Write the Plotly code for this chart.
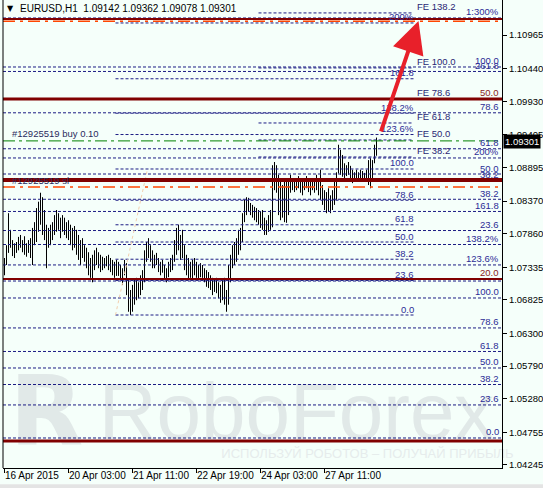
import plotly.graph_objects as go

# ---------------- data ----------------
chart_title = "EURUSD,H1  1.09142 1.09362 1.09078 1.09301"

first_open = 1.0745
bar_high = [
    1.0748, 1.0768, 1.0818, 1.0792, 1.0776, 1.0771, 1.0773, 1.0781, 1.0784, 1.0776,
    1.0782, 1.0771, 1.0776, 1.0779, 1.0795, 1.0804, 1.0826, 1.0836, 1.0850, 1.0843,
    1.0823, 1.0800, 1.0795, 1.0800, 1.0804, 1.0815, 1.0823, 1.0818, 1.0811, 1.0815,
    1.0811, 1.0804, 1.0807, 1.0800, 1.0795, 1.0798, 1.0792, 1.0784, 1.0776, 1.0779,
    1.0768, 1.0764, 1.0757, 1.0748, 1.0753, 1.0760, 1.0764, 1.0757, 1.0753, 1.0750,
    1.0748, 1.0751, 1.0753, 1.0748, 1.0745, 1.0742, 1.0745, 1.0742, 1.0737, 1.0732,
    1.0745, 1.0740, 1.0714, 1.0698, 1.0706, 1.0714, 1.0717, 1.0710, 1.0721, 1.0729,
    1.0760, 1.0773, 1.0779, 1.0768, 1.0760, 1.0753, 1.0756, 1.0748, 1.0742, 1.0745,
    1.0737, 1.0732, 1.0742, 1.0748, 1.0753, 1.0776, 1.0795, 1.0800, 1.0784, 1.0792,
    1.0768, 1.0753, 1.0748, 1.0742, 1.0745, 1.0748, 1.0742, 1.0737, 1.0740, 1.0737,
    1.0732, 1.0729, 1.0726, 1.0721, 1.0717, 1.0714, 1.0717, 1.0710, 1.0706, 1.0714,
    1.0717, 1.0698, 1.0737, 1.0753, 1.0768, 1.0773, 1.0779, 1.0792, 1.0795, 1.0818,
    1.0839, 1.0843, 1.0842, 1.0834, 1.0831, 1.0828, 1.0826, 1.0823, 1.0820, 1.0823,
    1.0811, 1.0807, 1.0815, 1.0823, 1.0893, 1.0898, 1.0893, 1.0878, 1.0870, 1.0862,
    1.0873, 1.0867, 1.0870, 1.0878, 1.0873, 1.0873, 1.0870, 1.0876, 1.0873, 1.0870,
    1.0873, 1.0876, 1.0870, 1.0867, 1.0873, 1.0870, 1.0878, 1.0873, 1.0886, 1.0862,
    1.0854, 1.0851, 1.0857, 1.0846, 1.0854, 1.0870, 1.0882, 1.0925, 1.0917, 1.0909,
    1.0896, 1.0893, 1.0898, 1.0892, 1.0886, 1.0882, 1.0886, 1.0882, 1.0886, 1.0884,
    1.0881, 1.0886, 1.0901, 1.0904, 1.0901, 1.0925, 1.09362,
]
bar_low = [
    1.0721, 1.0737, 1.0756, 1.0764, 1.0751, 1.0748, 1.0756, 1.0760, 1.0764, 1.0757,
    1.0753, 1.0750, 1.0756, 1.0748, 1.0737, 1.0768, 1.0773, 1.0789, 1.0800, 1.0784,
    1.0776, 1.0732, 1.0764, 1.0768, 1.0776, 1.0784, 1.0789, 1.0792, 1.0779, 1.0789,
    1.0784, 1.0779, 1.0776, 1.0768, 1.0760, 1.0764, 1.0753, 1.0745, 1.0737, 1.0748,
    1.0742, 1.0732, 1.0721, 1.0717, 1.0710, 1.0729, 1.0737, 1.0732, 1.0726, 1.0729,
    1.0732, 1.0735, 1.0729, 1.0726, 1.0721, 1.0717, 1.0720, 1.0720, 1.0714, 1.0706,
    1.0721, 1.0690, 1.0664, 1.0659, 1.0664, 1.0675, 1.0682, 1.0685, 1.0690, 1.0698,
    1.0710, 1.0742, 1.0748, 1.0742, 1.0732, 1.0732, 1.0737, 1.0726, 1.0721, 1.0725,
    1.0714, 1.0710, 1.0718, 1.0726, 1.0729, 1.0742, 1.0753, 1.0760, 1.0745, 1.0748,
    1.0729, 1.0721, 1.0714, 1.0717, 1.0714, 1.0721, 1.0717, 1.0714, 1.0718, 1.0717,
    1.0710, 1.0703, 1.0701, 1.0698, 1.0690, 1.0695, 1.0693, 1.0685, 1.0678, 1.0682,
    1.0675, 1.0664, 1.0675, 1.0710, 1.0732, 1.0737, 1.0742, 1.0753, 1.0760, 1.0773,
    1.0804, 1.0815, 1.0820, 1.0815, 1.0811, 1.0807, 1.0804, 1.0800, 1.0795, 1.0792,
    1.0784, 1.0784, 1.0789, 1.0792, 1.0796, 1.0854, 1.0850, 1.0815, 1.0807, 1.0811,
    1.0804, 1.0803, 1.0815, 1.0850, 1.0854, 1.0851, 1.0854, 1.0857, 1.0850, 1.0846,
    1.0854, 1.0857, 1.0851, 1.0846, 1.0854, 1.0850, 1.0854, 1.0846, 1.0839, 1.0831,
    1.0823, 1.0818, 1.0820, 1.0818, 1.0823, 1.0831, 1.0839, 1.0880, 1.0878, 1.0875,
    1.0873, 1.0876, 1.0878, 1.0873, 1.0865, 1.0867, 1.0870, 1.0867, 1.0870, 1.0867,
    1.0868, 1.0867, 1.0862, 1.0857, 1.0870, 1.0896, 1.09078,
]
bar_close = [
    1.0742, 1.0760, 1.0768, 1.0771, 1.0760, 1.0765, 1.0768, 1.0776, 1.0768, 1.0770,
    1.0760, 1.0764, 1.0770, 1.0760, 1.0789, 1.0792, 1.0815, 1.0823, 1.0839, 1.0795,
    1.0792, 1.0776, 1.0782, 1.0789, 1.0792, 1.0804, 1.0811, 1.0800, 1.0795, 1.0807,
    1.0795, 1.0792, 1.0787, 1.0779, 1.0776, 1.0784, 1.0764, 1.0760, 1.0753, 1.0760,
    1.0753, 1.0742, 1.0729, 1.0737, 1.0721, 1.0748, 1.0753, 1.0742, 1.0737, 1.0742,
    1.0740, 1.0745, 1.0737, 1.0732, 1.0729, 1.0726, 1.0729, 1.0726, 1.0721, 1.0714,
    1.0732, 1.0698, 1.0675, 1.0682, 1.0690, 1.0698, 1.0706, 1.0701, 1.0714, 1.0721,
    1.0753, 1.0760, 1.0757, 1.0753, 1.0742, 1.0745, 1.0748, 1.0732, 1.0729, 1.0737,
    1.0721, 1.0726, 1.0732, 1.0742, 1.0748, 1.0768, 1.0784, 1.0776, 1.0753, 1.0760,
    1.0742, 1.0737, 1.0729, 1.0732, 1.0726, 1.0732, 1.0729, 1.0721, 1.0729, 1.0726,
    1.0720, 1.0714, 1.0710, 1.0706, 1.0701, 1.0706, 1.0698, 1.0695, 1.0690, 1.0698,
    1.0682, 1.0682, 1.0721, 1.0742, 1.0753, 1.0760, 1.0768, 1.0784, 1.0779, 1.0811,
    1.0831, 1.0831, 1.0826, 1.0823, 1.0820, 1.0815, 1.0817, 1.0811, 1.0804, 1.0800,
    1.0795, 1.0792, 1.0800, 1.0815, 1.0878, 1.0886, 1.0862, 1.0831, 1.0854, 1.0846,
    1.0862, 1.0823, 1.0854, 1.0870, 1.0862, 1.0862, 1.0864, 1.0867, 1.0861, 1.0857,
    1.0865, 1.0870, 1.0861, 1.0854, 1.0864, 1.0857, 1.0867, 1.0854, 1.0846, 1.0839,
    1.0839, 1.0831, 1.0839, 1.0826, 1.0846, 1.0854, 1.0881, 1.0909, 1.0889, 1.0886,
    1.0882, 1.0886, 1.0889, 1.0879, 1.0873, 1.0876, 1.0878, 1.0873, 1.0879, 1.0876,
    1.0875, 1.0873, 1.0889, 1.0893, 1.0898, 1.09142, 1.09301,
]

time_tick_index = [0, 32, 64, 96, 128, 160]
time_tick_text = ["16 Apr 2015", "20 Apr 03:00", "21 Apr 11:00",
                  "22 Apr 19:00", "24 Apr 03:00", "27 Apr 11:00"]

price_tick_vals = [1.10965, 1.10440, 1.09930, 1.09405, 1.08895, 1.08370, 1.07860,
                   1.07335, 1.06825, 1.06300, 1.05790, 1.05280, 1.04755, 1.04245]
last_price = 1.09301

# Fibonacci tool A (labels at right edge, full width)
fibA_zero, fibA_full = 1.04667, 1.06855
fibA_levels = [0, 23.6, 38.2, 50, 61.8, 78.6, 100, 123.6, 138.2, 161.8, 200, 261.8, 300]
fibA_labels = ["0.0", "23.6", "38.2", "50.0", "61.8", "78.6", "100.0", "123.6%",
               "138.2%", "161.8", "200%", "261.8", "1:300%"]
# Fibonacci tool B (labels at right edge, full width)
fibB_zero, fibB_full = 1.07120, 1.10465
fibB_levels = [0, 23.6, 38.2, 50, 61.8, 78.6, 100]
fibB_labels = ["", "23.6", "38.2", "50.0", "61.8", "78.6", "100.0"]
# Fibonacci tool C (lines between two bars, labels right-aligned)
fibC_zero, fibC_full = 1.06589, 1.08871
fibC_levels = [0, 23.6, 38.2, 50, 61.8, 78.6, 100, 123.6, 138.2, 161.8, 200]
fibC_labels = ["0.0", "23.6", "38.2", "50.0", "61.8", "78.6", "100.0", "123.6%",
               "138.2%", "161.8", "200%"]
fibC_span = [55.5, 204.5]
fibC_anchor_bars = [55.5, 71.5]
# Fibonacci expansion (FE)
fe_zero, fe_full = 1.08199, 1.10450
fe_levels = [38.2, 50, 61.8, 78.6, 100, 138.2]
fe_span = [127, 204.5]

# manual horizontal lines (dark red) and order lines
sr_levels = [1.11215, 1.09965, 1.08699, 1.07152, 1.04620]
sr_widths = [2, 3, 4, 2, 3]
sr_labels = ["", "50.0", "38.2", "20.0", ""]
order_price = 1.09310
stop_price = 1.08590
target_price = 1.11180

arrow_from = (188, 1.09434)
arrow_to = (207, 1.11184)

watermark = "RoboForex"
watermark_tag = "ИСПОЛЬЗУЙ РОБОТОВ – ПОЛУЧАЙ ПРИБЫЛЬ"

# ---------------- styling ----------------
BG = "#f5fffa"
NAVY = "#1c1c84"
LBL = "#2c2c96"
FE_LBL = "#2a1f74"
DRED = "#800000"
FONT = "Liberation Sans, Arial, sans-serif"
Y_RANGE = [1.04198, 1.11512]
X_RANGE = [-0.75, 248.75]

idx = list(range(len(bar_high)))
opens = [first_open] + bar_close[:-1]

fig = go.Figure()

# watermark under everything
fig.add_trace(go.Scatter(
    x=[146], y=[1.04960], mode="text", text=[watermark],
    textfont=dict(family="Liberation Sans Narrow, Liberation Sans, Arial", size=80, color="#e1e9e8"),
    hoverinfo="skip", showlegend=False, cliponaxis=False))
fig.add_trace(go.Scatter(
    x=[21], y=[1.04940], mode="text", text=["R"],
    textfont=dict(family="DejaVu Sans", size=96, color="#e1e9e8", weight="bold"),
    hoverinfo="skip", showlegend=False, cliponaxis=False))
fig.add_trace(go.Scatter(
    x=[181.5], y=[1.04401], mode="text", text=[watermark_tag],
    textfont=dict(family=FONT, size=13, color="#e6ecec"),
    hoverinfo="skip", showlegend=False, cliponaxis=False))

fig.add_trace(go.Ohlc(
    x=idx, open=opens, high=bar_high, low=bar_low, close=bar_close,
    increasing=dict(line=dict(color="black", width=1)),
    decreasing=dict(line=dict(color="black", width=1)),
    tickwidth=0, hoverinfo="skip", showlegend=False))

shapes = []
annotations = []


def hline(y, x0=0, x1=1, xref="paper", color=NAVY, width=1, dash="3px,2px"):
    shapes.append(dict(type="line", xref=xref, yref="y", x0=x0, x1=x1, y0=y, y1=y,
                       line=dict(color=color, width=width, dash=dash)))


def label(text, x, y, xref="paper", anchor="right", color=LBL, shift=6, xshift=0, size=9.5):
    if not text:
        return
    annotations.append(dict(text=text, x=x, y=y, xref=xref, yref="y", xanchor=anchor,
                            yanchor="middle", yshift=shift, xshift=xshift, showarrow=False,
                            font=dict(family=FONT, size=size, color=color)))


# Fib A
for lv, tx in zip(fibA_levels, fibA_labels):
    p = fibA_zero + (fibA_full - fibA_zero) * lv / 100
    hline(p)
    label(tx, 1, p, xshift=-1)
# Fib B
for lv, tx in zip(fibB_levels, fibB_labels):
    p = fibB_zero + (fibB_full - fibB_zero) * lv / 100
    hline(p)
    label(tx, 1, p, xshift=-1)
# Fib C
for lv, tx in zip(fibC_levels, fibC_labels):
    p = fibC_zero + (fibC_full - fibC_zero) * lv / 100
    hline(p, fibC_span[0], fibC_span[1], xref="x")
    label(tx, fibC_span[1], p, xref="x", xshift=2)
shapes.append(dict(type="line", xref="x", yref="y", x0=fibC_anchor_bars[0], x1=fibC_anchor_bars[1],
                   y0=fibC_zero, y1=fibC_full, line=dict(color="#f3cfae", width=1, dash="dot")))
# FE
for lv in fe_levels:
    p = fe_zero + (fe_full - fe_zero) * lv / 100
    hline(p, fe_span[0], fe_span[1], xref="x")
    label("FE %.1f" % lv, fe_span[1] + 1.5, p, xref="x", anchor="left", color=FE_LBL, xshift=-2)

# order lines
hline(order_price, color="#008000", width=1, dash="12px,4px,3px,4px")
hline(stop_price, color="#ff4500", width=1.5, dash="12px,5px,3px,5px")
hline(target_price, color="#ff4500", width=1.5, dash="12px,5px,3px,5px")
annotations.append(dict(text="#12925519 buy 0.10", x=0.014, y=order_price, xref="paper", yref="y",
                        xanchor="left", yanchor="middle", yshift=7, showarrow=False,
                        font=dict(family=FONT, size=9.5, color="#2a2a5c")))
annotations.append(dict(text="#12925519 sl", x=0.014, y=stop_price, xref="paper", yref="y",
                        xanchor="left", yanchor="middle", yshift=6, showarrow=False,
                        font=dict(family=FONT, size=9.5, color="#2a2a5c")))

# dark red lines
for p, w, tx in zip(sr_levels, sr_widths, sr_labels):
    hline(p, color=DRED, width=w, dash="solid")
    label(tx, 1, p, xshift=-1, color="#8b1c1c" if tx != "38.2" else LBL)

# plot frame: left border + bottom grey strip
shapes.append(dict(type="line", xref="paper", yref="paper", x0=0, x1=0, y0=0, y1=1,
                   line=dict(color="black", width=1)))
shapes.append(dict(type="rect", xref="paper", yref="paper", x0=-0.01, x1=1.09, y0=-0.0345,
                   y1=-0.045, line=dict(width=0), fillcolor="#e4e4e4"))

# time labels (left-aligned at ticks, MT4 style)
for i, tx in zip(time_tick_index, time_tick_text):
    annotations.append(dict(text=tx, x=i - 0.75, y=-0.017, xref="x", yref="paper",
                            xanchor="left", yanchor="middle", showarrow=False,
                            font=dict(family=FONT, size=10, color="black")))

# title
annotations.append(dict(text="▼", x=0.004, y=0.981, xref="paper", yref="paper", xanchor="left",
                        yanchor="middle", showarrow=False, font=dict(family="DejaVu Sans", size=8, color="black")))
annotations.append(dict(text=chart_title, x=0.03, y=0.981, xref="paper", yref="paper",
                        xanchor="left", yanchor="middle", showarrow=False,
                        font=dict(family=FONT, size=10, color="black")))

# current price box
annotations.append(dict(text="%.5f" % last_price, x=1, y=last_price, xref="paper", yref="y",
                        xanchor="left", yanchor="middle", xshift=1, showarrow=False,
                        bgcolor="black", borderpad=1,
                        font=dict(family=FONT, size=9.5, color="white")))

# red arrow
annotations.append(dict(x=arrow_to[0], y=arrow_to[1], ax=arrow_from[0], ay=arrow_from[1],
                        xref="x", yref="y", axref="x", ayref="y", showarrow=True,
                        arrowhead=2, arrowsize=1.6, arrowwidth=4, arrowcolor="#e8202a", text=""))

fig.update_layout(
    width=543, height=488, margin=dict(l=3, r=41, t=0, b=20),
    paper_bgcolor=BG, plot_bgcolor=BG, showlegend=False,
    shapes=shapes, annotations=annotations,
    xaxis=dict(range=X_RANGE, tickvals=time_tick_index, showticklabels=False,
               ticks="outside", ticklen=4, tickcolor="black", showline=True,
               linecolor="black", linewidth=1, showgrid=False, zeroline=False,
               rangeslider=dict(visible=False), fixedrange=True),
    yaxis=dict(side="right", range=Y_RANGE, tickvals=price_tick_vals,
               ticktext=["%.5f" % v for v in price_tick_vals], ticks="outside",
               ticklen=4, tickcolor="black", showline=True, linecolor="black",
               linewidth=1, showgrid=False, zeroline=False, fixedrange=True,
               tickfont=dict(family=FONT, size=9.5, color="black")),
)

fig.write_html("out.html", config={"displayModeBar": False},
               post_script="document.body.style.margin='0px';document.body.style.overflow='hidden';")
